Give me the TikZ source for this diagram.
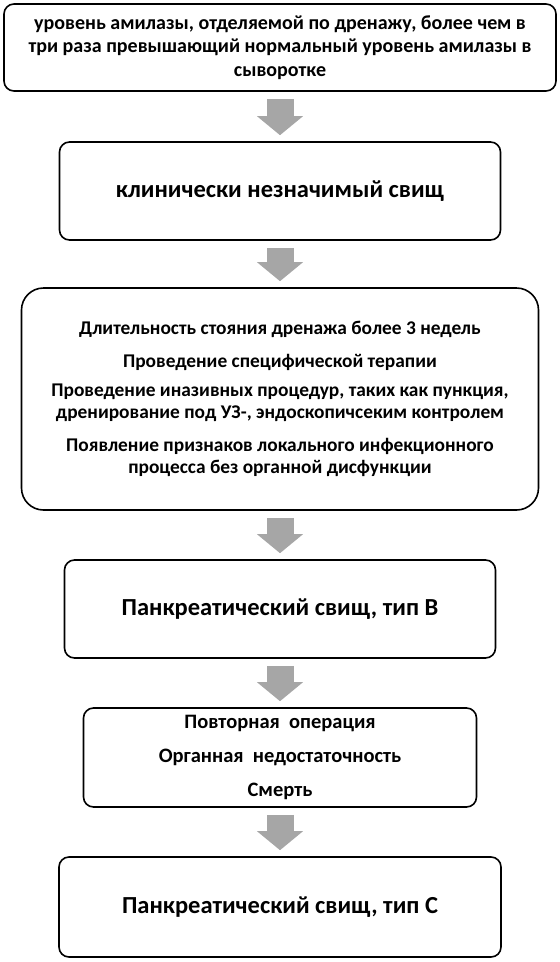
\documentclass[tikz,border=0pt]{standalone}
\usepackage{fontspec}
\setmainfont{Carlito}
\usetikzlibrary{arrows.meta,positioning}
\definecolor{flowGray}{RGB}{166,166,166}
\newcommand{\txtsize}[2]{\fontsize{#1}{#2}\selectfont}

\begin{document}
\begin{tikzpicture}[x=1pt,y=-1pt]
    \tikzset{
        stagebox/.style={draw=black, line width=1.6pt, rounded corners=10pt,
            align=center, inner sep=0pt, font=\bfseries},
        flowarrow/.style={draw=flowGray, line width=27pt,
            -{Triangle[width=45pt,length=19pt]}, shorten <=7pt, shorten >=6pt}
    }
    \useasboundingbox (0,0) rectangle (560,962);

    % Boxes
    \node[stagebox, minimum width=552pt, minimum height=87pt,
        font=\bfseries\txtsize{20}{23.5}] (amylase) at (280,47.5)
        {уровень амилазы, отделяемой по дренажу, более чем в\\
         три раза превышающий нормальный уровень амилазы в\\
         сыворотке};
    \node[stagebox, minimum width=441pt, minimum height=98pt,
        font=\bfseries\txtsize{24.5}{28}] (minor) at (280,191)
        {клинически незначимый свищ};
    \node[stagebox, minimum width=517pt, minimum height=222pt, rounded corners=22pt,
        font=\bfseries\txtsize{19.4}{22}] (criteriaB) at (280,399)
        {Длительность стояния дренажа более 3 недель\\[11pt]
         Проведение специфической терапии\\[7pt]
         Проведение иназивных процедур, таких как пункция,\\
         дренирование под УЗ-, эндоскопичсеким контролем\\[11pt]
         Появление признаков локального инфекционного\\
         процесса без органной дисфункции};
    \node[stagebox, minimum width=431pt, minimum height=98pt,
        font=\bfseries\txtsize{24.5}{28}] (typeB) at (280,609)
        {Панкреатический свищ, тип В};
    \node[stagebox, minimum width=393pt, minimum height=99pt,
        font=\bfseries\txtsize{20.5}{34}] (criteriaC) at (280,757.5)
        {Повторная\ \ операция\\
         Органная\ \ недостаточность\\
         Смерть};
    \node[stagebox, minimum width=442pt, minimum height=100pt,
        font=\bfseries\txtsize{24.5}{28}] (typeC) at (280,907)
        {Панкреатический свищ, тип С};

    % Arrows
    \draw[flowarrow] (amylase.south) -- (minor.north);
    \draw[flowarrow] (minor.south) -- (criteriaB.north);
    \draw[flowarrow] (criteriaB.south) -- (typeB.north);
    \draw[flowarrow] (typeB.south) -- (criteriaC.north);
    \draw[flowarrow] (criteriaC.south) -- (typeC.north);

\end{tikzpicture}
\end{document}
